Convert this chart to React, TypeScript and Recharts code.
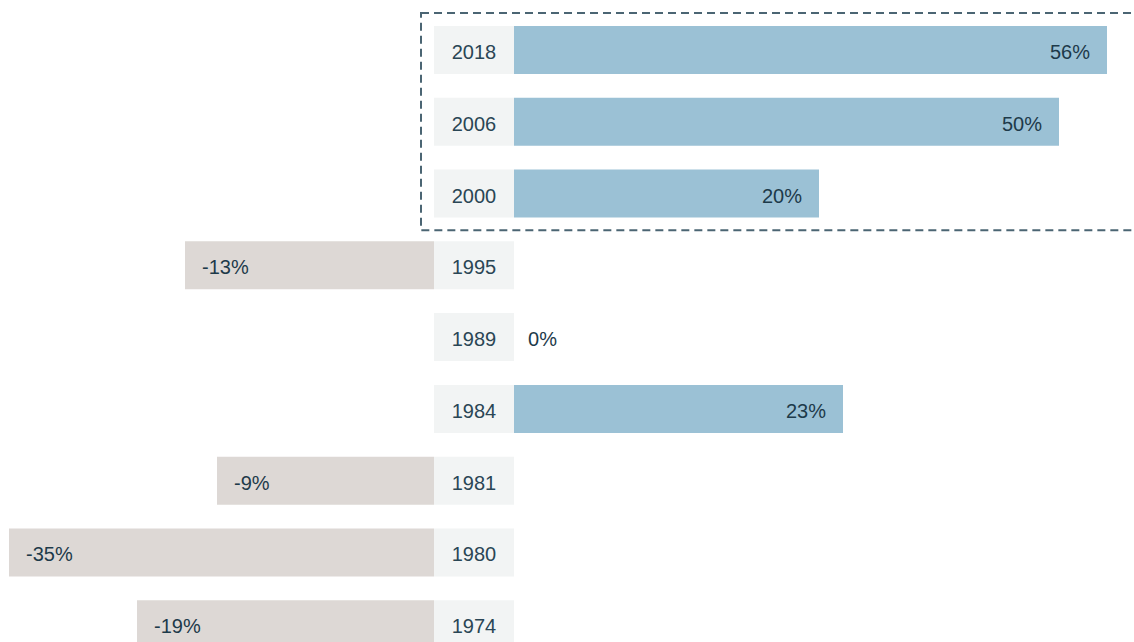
import { BarChart, Bar, XAxis, YAxis, LabelList, Cell, ReferenceArea } from 'recharts'

const years = ['2018', '2006', '2000', '1995', '1989', '1984', '1981', '1980', '1974']
const changes = [56, 50, 20, -13, 0, 23, -9, -35, -19]
const highlightFrom = '2018'
const highlightTo = '2000'

// layout constants (pixels turned into axis units)
const PX_PER_PCT = 8
const BOX = 80 / PX_PER_PCT
const LEAD = 145 / PX_PER_PCT
const DOMAIN: [number, number] = [-64.25, 77.5]

const rows = years.map((year, i) => {
  const v = changes[i]
  let range = [0, 0]
  if (v > 0) range = [0, v + LEAD]
  if (v < 0) range = [-BOX - LEAD + v, -BOX]
  return { year, value: v, box: [-BOX, 0], range }
})

const FONT = '"Liberation Sans", Arial, sans-serif'
const TEXT = '#1d3a4a'

const YearLabel = (props: any) => {
  const { x, y, width, height, value } = props
  return (
    <text x={x + width / 2} y={y + height / 2 + 9} textAnchor="middle" fill="#2a4655" fontSize={20} fontFamily={FONT}>
      {value}
    </text>
  )
}

// zero values have no bar, so their label hangs off the year box
const ZeroLabel = (props: any) => {
  const { x, y, width, height, value } = props
  if (value !== 0) return null
  return (
    <text x={x + width + 14} y={y + height / 2 + 9} fill={TEXT} fontSize={20} fontFamily={FONT}>
      {value}%
    </text>
  )
}

const ValueLabel = (props: any) => {
  const { x, y, width, height, value } = props
  if (value === 0) return null
  const pos = value > 0
  return (
    <text
      x={pos ? x + width - 17 : x + 17}
      y={y + height / 2 + 9}
      textAnchor={pos ? 'end' : 'start'}
      fill={TEXT}
      fontSize={20}
      fontFamily={FONT}
    >
      {value}%
    </text>
  )
}

const DashedBox = (props: any) => {
  const { x, y, width, height } = props
  return (
    <rect x={x} y={y - 1} width={width} height={height + 2} fill="none" stroke="#4b6573" strokeWidth={2} strokeDasharray="8 5" />
  )
}

export default function App() {
  return (
    <div style={{ width: 1134, height: 642, overflow: 'hidden' }}>
      <style>{`body{margin:0;overflow:hidden;}`}</style>
      <BarChart
        width={1134}
        height={660}
        data={rows}
        layout="vertical"
        margin={{ top: 14, right: 0, bottom: 0, left: 0 }}
        barSize={48}
        barGap={-48}
      >
        <XAxis type="number" domain={DOMAIN} hide allowDataOverflow />
        <YAxis type="category" dataKey="year" hide />
        <ReferenceArea
          x1={(421 - 514) / PX_PER_PCT}
          x2={DOMAIN[1] + 1}
          y1={highlightFrom}
          y2={highlightTo}
          ifOverflow="visible"
          shape={DashedBox}
        />
        <Bar dataKey="box" fill="#f2f4f4" isAnimationActive={false}>
          <LabelList dataKey="year" content={YearLabel} />
          <LabelList dataKey="value" content={ZeroLabel} />
        </Bar>
        <Bar dataKey="range" isAnimationActive={false}>
          {rows.map((r) => (
            <Cell key={r.year} fill={r.value >= 0 ? '#9bc1d5' : '#ddd8d5'} />
          ))}
          <LabelList dataKey="value" content={ValueLabel} />
        </Bar>
      </BarChart>
    </div>
  )
}
